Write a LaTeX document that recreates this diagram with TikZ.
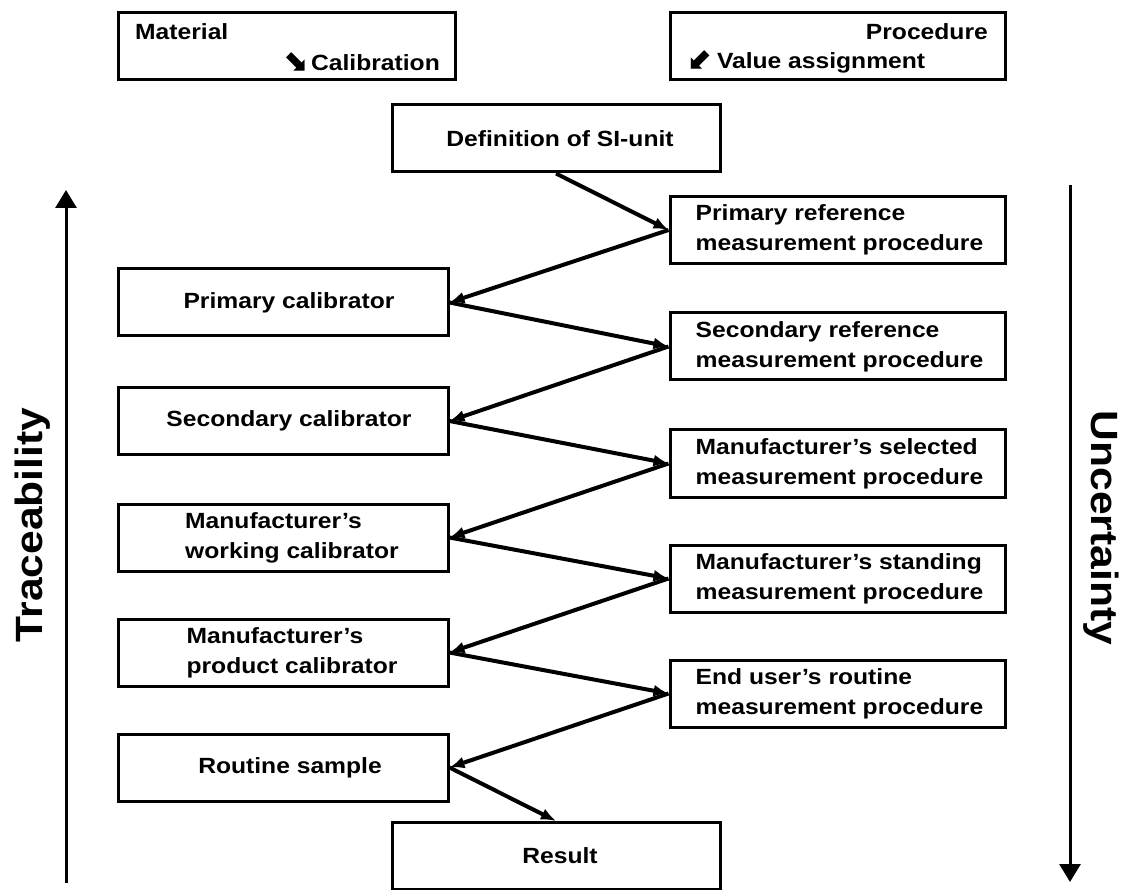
\documentclass[tikz,border=0pt]{standalone}
\usepackage{fontspec}
\setmainfont{Liberation Sans}[FakeStretch=1.12]
\newfontfamily\arrowfont{DejaVu Sans}
\usetikzlibrary{arrows.meta}
\newcommand{\legendarrow}[1]{{\fontsize{30}{30}\selectfont\arrowfont\bfseries #1}}
\begin{document}
\begin{tikzpicture}[x=1pt,y=-1pt,
  font=\fontsize{22}{30}\selectfont\bfseries,
  box/.style={draw, line width=3pt, minimum height=67pt, inner sep=0pt},
  lbox/.style={box, minimum width=330pt},
  rbox/.style={box, minimum width=335pt},
  wbox/.style={box, minimum width=328pt},
  txt/.style={inner sep=0pt, align=left},
  link/.style={line width=4pt, -{Latex[length=15pt,width=12pt]}},
  axis/.style={line width=3pt, -{Triangle[length=18pt,width=21pt]}},
  axislabel/.style={font=\fontsize{38}{40}\selectfont\bfseries}]
\useasboundingbox (0,0) rectangle (1122,890);

% legend boxes
\node[box, minimum width=337pt] (mat) at (286.5,46) {};
\node[txt, anchor=west] (matA) at (135,32) {Material};
\node[txt, anchor=east] (matB) at (440,62) {\legendarrow{⬊}\,Calibration};
\node[box, minimum width=335pt] (proc) at (837.5,46) {};
\node[txt, anchor=east] (procA) at (988,32) {Procedure};
\node[txt, anchor=west] (procB) at (688,62) {\legendarrow{⬋}\,Value assignment};

% top and bottom of the chain
\node[wbox] (si) at (556,138.5) {};
\node[txt] (sit) at (560,138.5) {Definition of SI-unit};
\node[wbox] (res) at (556,856) {};
\node[txt] (rest) at (560,856) {Result};

% procedures (right column)
\node[rbox] (p1) at (837.5,230) {};
\node[rbox] (p2) at (837.5,346.5) {};
\node[rbox] (p3) at (837.5,463.5) {};
\node[rbox] (p4) at (837.5,578.5) {};
\node[rbox] (p5) at (837.5,693.5) {};
\node[txt, anchor=west] (p1t) at ([xshift=27pt]p1.west) {Primary reference\\measurement procedure};
\node[txt, anchor=west] (p2t) at ([xshift=27pt]p2.west) {Secondary reference\\measurement procedure};
\node[txt, anchor=west] (p3t) at ([xshift=27pt]p3.west) {Manufacturer’s selected\\measurement procedure};
\node[txt, anchor=west] (p4t) at ([xshift=27pt]p4.west) {Manufacturer’s standing\\measurement procedure};
\node[txt, anchor=west] (p5t) at ([xshift=27pt]p5.west) {End user’s routine\\measurement procedure};

% calibrators (left column)
\node[lbox] (c1) at (283,302.5) {};
\node[lbox] (c2) at (283,421) {};
\node[lbox] (c3) at (283,537.5) {};
\node[lbox] (c4) at (283,652.5) {};
\node[lbox] (c5) at (283,767.5) {};
\node[txt] (c1t) at (289,302.5) {Primary calibrator};
\node[txt] (c2t) at (289,421) {Secondary calibrator};
\node[txt] (c3t) at (292,537.5) {Manufacturer’s\\working calibrator};
\node[txt] (c4t) at (292,652.5) {Manufacturer’s\\product calibrator};
\node[txt] (c5t) at (290,767.5) {Routine sample};

% zig-zag chain
\draw[link] (si.south) -- (p1.west);
\draw[link] (p1.west) -- (c1.east);
\draw[link] (c1.east) -- (p2.west);
\draw[link] (p2.west) -- (c2.east);
\draw[link] (c2.east) -- (p3.west);
\draw[link] (p3.west) -- (c3.east);
\draw[link] (c3.east) -- (p4.west);
\draw[link] (p4.west) -- (c4.east);
\draw[link] (c4.east) -- (p5.west);
\draw[link] (p5.west) -- (c5.east);
\draw[link] (c5.east) -- (res.north);

% side axes
\coordinate (tlo) at (66,883);
\coordinate (thi) at (66,190);
\coordinate (uhi) at (1070,185);
\coordinate (ulo) at (1070,882);
\draw[axis] (tlo) -- (thi);
\draw[axis] (uhi) -- (ulo);
\node[axislabel, rotate=90] (trace) at (33,525) {Traceability};
\node[axislabel, rotate=-90] (unc) at (1101,528) {Uncertainty};
\end{tikzpicture}
\end{document}
